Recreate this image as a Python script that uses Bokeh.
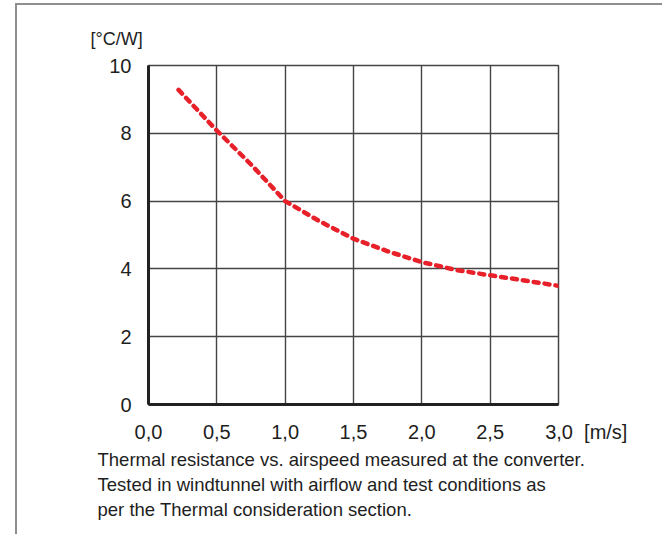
from bokeh.plotting import figure
from bokeh.models import Range1d, FixedTicker, Title
from bokeh.embed import file_html
from bokeh.resources import INLINE

# ---- data ----
airspeed = [0.22, 0.5, 0.75, 1.0, 1.25, 1.5, 1.75, 2.0, 2.25, 2.5, 2.75, 3.0]
thermal_res = [9.28, 8.08, 7.08, 6.0, 5.41, 4.89, 4.52, 4.2, 3.97, 3.81, 3.66, 3.5]
x_ticks = [0.0, 0.5, 1.0, 1.5, 2.0, 2.5, 3.0]
x_tick_labels = ["0,0", "0,5", "1,0", "1,5", "2,0", "2,5", "3,0"]
y_ticks = [0, 2, 4, 6, 8, 10]
y_unit = "[°C/W]"
x_unit = "[m/s]"
caption = [
    "Thermal resistance vs. airspeed measured at the converter.",
    "Tested in windtunnel with airflow and test conditions as",
    "per the Thermal consideration section.",
]

FONT = "Liberation Sans"
TXT = "#1e1e1e"
W, H = 647, 531
NB = "\u00a0"

p = figure(width=W, height=H, output_backend="svg", toolbar_location=None,
           x_range=Range1d(0, 3), y_range=Range1d(0, 10),
           min_border_left=131, min_border_right=106,
           min_border_top=60, min_border_bottom=132)
p.styles = {"border-left": "2px solid #8e8e8e", "border-top": "2px solid #8e8e8e",
            "transform": "translate(15px, 3px)"}
p.background_fill_color = "white"
p.border_fill_color = "white"
p.outline_line_color = "#444444"
p.outline_line_width = 1.5

# grid
p.xgrid.ticker = FixedTicker(ticks=x_ticks)
p.ygrid.ticker = FixedTicker(ticks=y_ticks)
for g in (p.xgrid, p.ygrid):
    g.grid_line_color = "#444444"
    g.grid_line_width = 1.4

# axes; the unit of the x axis follows the last tick label
labels = {t: l for t, l in zip(x_ticks, x_tick_labels)}
labels[x_ticks[-1]] = NB * 10 + x_tick_labels[-1] + NB * 2 + x_unit
p.xaxis.ticker = FixedTicker(ticks=x_ticks)
p.xaxis.major_label_overrides = labels
p.yaxis.ticker = FixedTicker(ticks=y_ticks)
for ax in (p.xaxis, p.yaxis):
    ax.axis_line_color = "#222222"
    ax.axis_line_width = 3
    ax.major_tick_line_color = None
    ax.minor_tick_line_color = None
    ax.major_label_text_font = FONT
    ax.major_label_text_font_size = "20px"
    ax.major_label_text_color = TXT
p.xaxis.major_label_standoff = 10
p.yaxis.major_label_standoff = 11

# curve
p.line(airspeed, thermal_res, line_color="#e8202a", line_width=4.5,
       line_dash="5 6", line_cap="round", line_join="round")

# y unit as title above
p.add_layout(Title(text=y_unit, align="left", offset=-58, standoff=34,
                   text_font=FONT, text_font_size="18px", text_font_style="normal",
                   text_color=TXT), "above")

# caption as titles below
for i, line in enumerate(caption):
    p.add_layout(Title(text=line, align="left", offset=-51, standoff=2,
                       text_font=FONT, text_font_size="18.5px", text_font_style="normal",
                       text_color=TXT), "below")

open("out.html", "w").write(file_html(p, INLINE))
